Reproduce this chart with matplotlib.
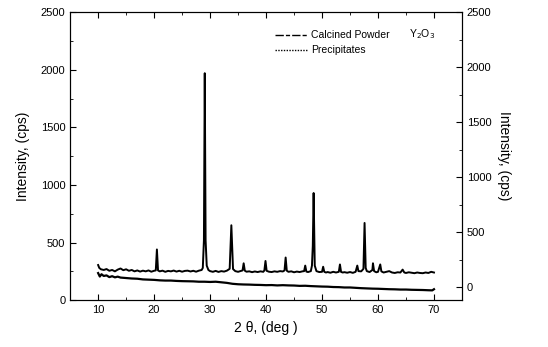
import numpy as np
import matplotlib
matplotlib.use('Agg')
import matplotlib.pyplot as plt
from matplotlib.lines import Line2D
from matplotlib.ticker import MultipleLocator

plt.rcParams['font.family'] = ['Liberation Sans', 'DejaVu Sans']

# calcined powder (2 theta, cps)
calc_x = [10, 10.2, 10.5, 11, 11.5, 12, 12.5, 13, 13.5, 14, 14.5, 15, 15.5, 16, 16.5, 17, 17.5, 18, 18.5, 19,
          19.5, 20, 20.3, 20.5, 20.7, 21, 21.5, 22, 22.5, 23, 23.5, 24, 24.5, 25, 25.5, 26, 26.5, 27, 27.5, 28,
          28.5, 28.7, 28.9, 29.05, 29.2, 29.4, 29.7, 30, 30.5, 31, 31.5, 32, 32.5, 33, 33.5, 33.8, 34.1, 34.5, 35,
          35.5, 35.8, 36, 36.2, 36.5, 37, 37.5, 38, 38.5, 39, 39.5, 39.7, 39.9, 40.1, 40.5, 41, 41.5, 42, 42.5,
          43, 43.3, 43.5, 43.7, 44, 44.5, 45, 45.5, 46, 46.5, 46.8, 47, 47.2, 47.5, 48, 48.2, 48.35, 48.5, 48.7,
          49, 49.5, 50, 50.2, 50.4, 50.7, 51, 51.5, 52, 52.5, 53, 53.2, 53.4, 53.7, 54, 54.5, 55, 55.5, 56, 56.3,
          56.5, 57, 57.4, 57.6, 57.8, 58, 58.5, 59, 59.1, 59.3, 59.7, 60, 60.4, 60.6, 61, 61.5, 62, 62.5, 63, 63.5,
          64, 64.4, 64.7, 65, 65.5, 66, 66.5, 67, 67.5, 68, 68.5, 69, 69.5, 70]
calc_y = [305, 280, 268, 262, 270, 255, 262, 250, 265, 275, 260, 268, 255, 262, 250, 258, 248, 256, 250, 258,
          247, 255, 258, 440, 258, 250, 256, 246, 254, 250, 257, 248, 255, 247, 254, 256, 249, 255, 247, 256,
          262, 280, 520, 1970, 520, 300, 262, 252, 246, 254, 245, 252, 248, 256, 272, 650, 270, 252, 246,
          254, 258, 320, 256, 247, 250, 243, 249, 244, 250, 246, 258, 340, 255, 247, 244, 250, 246, 252,
          249, 258, 370, 256, 246, 250, 242, 248, 244, 250, 252, 300, 248, 244, 252, 300, 470, 930, 300,
          252, 244, 246, 290, 246, 240, 244, 238, 246, 240, 246, 310, 245, 240, 243, 238, 244, 237, 246, 300,
          252, 250, 272, 670, 280, 252, 244, 262, 320, 252, 242, 246, 310, 250, 240, 246, 252, 240, 236, 242,
          240, 265, 240, 236, 242, 238, 234, 240, 236, 234, 240, 236, 246, 240]

# precipitates
prec_x = [10, 10.3, 10.6, 11, 11.5, 12, 12.5, 13, 13.5, 14, 15, 16, 17, 18, 19, 20, 21, 22, 23, 24, 25, 26, 27,
          28, 29, 30, 31, 32, 33, 34, 35, 36, 37, 38, 39, 40, 41, 42, 43, 44, 45, 46, 47, 48, 49, 50, 51, 52, 53,
          54, 55, 56, 57, 58, 59, 60, 61, 62, 63, 64, 65, 66, 67, 68, 69, 69.7, 70]
prec_y = [235, 205, 225, 210, 215, 200, 208, 198, 204, 196, 192, 188, 186, 180, 178, 176, 172, 170, 170, 167,
          165, 164, 163, 160, 160, 158, 160, 155, 150, 142, 138, 136, 135, 133, 132, 130, 131, 128, 130, 128,
          127, 124, 125, 122, 120, 118, 117, 114, 113, 110, 110, 107, 104, 102, 100, 99, 97, 95, 94, 92,
          92, 90, 89, 88, 86, 85, 95]

fig = plt.figure(figsize=(5.48, 3.47), dpi=100)
ax = fig.add_axes([0.128, 0.135, 0.715, 0.83])
ax.plot(calc_x, calc_y, color='black', lw=1.4)
ax.plot(prec_x, prec_y, color='black', lw=1.6)

ax.set_xlim(5, 75)
ax.set_ylim(0, 2500)
ax.xaxis.set_major_locator(MultipleLocator(10))
ax.xaxis.set_minor_locator(MultipleLocator(5))
ax.yaxis.set_major_locator(MultipleLocator(500))
ax.yaxis.set_minor_locator(MultipleLocator(250))
ax.tick_params(direction='in', which='both', top=True, labelsize=8)
ax.tick_params(which='major', length=4)
ax.tick_params(which='minor', length=2)
ax.set_xlabel('2 θ, (deg )', fontsize=10)
ax.set_ylabel('Intensity, (cps)', fontsize=10, labelpad=8)

ax2 = ax.twinx()
ax2.set_ylim(-118, 2500)
ax2.yaxis.set_major_locator(MultipleLocator(500))
ax2.yaxis.set_minor_locator(MultipleLocator(250))
ax2.tick_params(direction='in', which='both', labelsize=8)
ax2.tick_params(which='major', length=4)
ax2.tick_params(which='minor', length=2)
ax2.set_ylabel('Intensity, (cps)', fontsize=10, rotation=270, labelpad=14)

handles = [Line2D([], [], color='black', lw=1, dashes=(6, 1.5, 3, 1.5)),
           Line2D([], [], color='black', lw=1, dashes=(1, 1, 1, 1))]
leg = ax.legend(handles, ['Calcined Powder', 'Precipitates'], loc='upper left',
                bbox_to_anchor=(0.5, 0.97), frameon=False, fontsize=7.5,
                handlelength=3, handletextpad=0.4, labelspacing=0.5)
ax.text(0.865, 0.925, 'Y$_2$O$_3$', transform=ax.transAxes, fontsize=7.5, va='center')

fig.savefig('out.png', dpi=100)
